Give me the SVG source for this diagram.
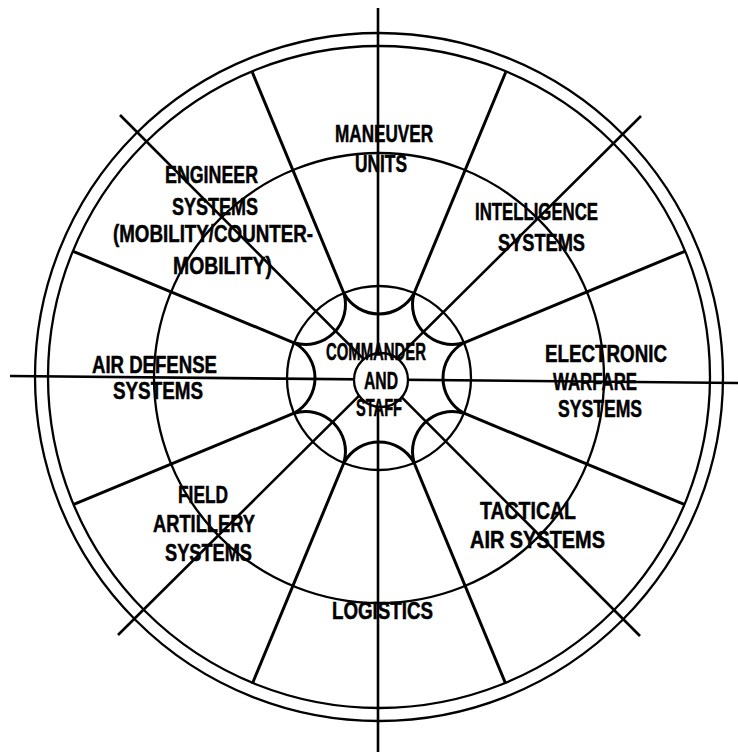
<svg xmlns="http://www.w3.org/2000/svg" width="738" height="752" viewBox="0 0 738 752">
<style>
.ln{stroke:#000;fill:none;stroke-linecap:butt}
.ax{stroke-width:2.6}
.sp{stroke-width:3}
.ci{stroke-width:2.3}
.t{font-family:"Liberation Sans",Arial,sans-serif;font-weight:bold;font-size:24px;fill:#000;stroke:#000;stroke-width:0.5}
</style>
<rect width="738" height="752" fill="#fff"/>
<g id="frame" class="ln ci">
<circle cx="379" cy="377" r="344"/>
<circle cx="379" cy="377" r="331"/>
<circle cx="379" cy="378" r="225"/>
<circle cx="379" cy="378" r="92"/>
</g>
<g id="connectors" class="ln">
<g id="axes" class="ax">
<line x1="378" y1="8" x2="378" y2="752"/>
<line x1="10" y1="376" x2="738" y2="383"/>
<line x1="120" y1="115" x2="640" y2="636"/>
<line x1="641" y1="116" x2="118" y2="635"/>
</g>
<g id="spokes" class="sp">
<line x1="464.0" y1="413.2" x2="684.8" y2="504.7"/>
<line x1="414.2" y1="463.0" x2="505.7" y2="683.8"/>
<line x1="343.8" y1="463.0" x2="252.3" y2="683.8"/>
<line x1="294.0" y1="413.2" x2="73.2" y2="504.7"/>
<line x1="294.0" y1="342.8" x2="73.2" y2="251.3"/>
<line x1="343.8" y1="293.0" x2="252.3" y2="72.2"/>
<line x1="414.2" y1="293.0" x2="505.7" y2="72.2"/>
<line x1="464.0" y1="342.8" x2="684.8" y2="251.3"/>
</g>
<path id="bites" class="sp" d="M464,342.8 A40 40 0 0 0 464,413.2 A40 40 0 0 0 414.2,463 A40 40 0 0 0 343.8,463 A40 40 0 0 0 294,413.2 A40 40 0 0 0 294,342.8 A40 40 0 0 0 343.8,293 A40 40 0 0 0 414.2,293 A40 40 0 0 0 464,342.8 Z"/>
</g>
<g id="commander">
<circle cx="381" cy="380" r="27" fill="#fff" stroke="#000" stroke-width="2.3"/>
<text class="t" x="326" y="360" textLength="100" lengthAdjust="spacingAndGlyphs">COMMANDER</text>
<text class="t" x="364" y="389" textLength="34" lengthAdjust="spacingAndGlyphs">AND</text>
<text class="t" x="356" y="416" textLength="46" lengthAdjust="spacingAndGlyphs">STAFF</text>
</g>
<g id="maneuver">
<text class="t" x="335" y="142" textLength="98" lengthAdjust="spacingAndGlyphs">MANEUVER</text>
<text class="t" x="355" y="172" textLength="52" lengthAdjust="spacingAndGlyphs">UNITS</text>
</g>
<g id="intelligence">
<text class="t" x="475" y="220" textLength="123" lengthAdjust="spacingAndGlyphs">INTELLIGENCE</text>
<text class="t" x="498" y="251" textLength="87" lengthAdjust="spacingAndGlyphs">SYSTEMS</text>
</g>
<g id="electronic-warfare">
<text class="t" x="545" y="362" textLength="122" lengthAdjust="spacingAndGlyphs">ELECTRONIC</text>
<text class="t" x="553" y="390" textLength="84" lengthAdjust="spacingAndGlyphs">WARFARE</text>
<text class="t" x="558" y="417" textLength="84" lengthAdjust="spacingAndGlyphs">SYSTEMS</text>
</g>
<g id="tactical-air">
<text class="t" x="480" y="519" textLength="96" lengthAdjust="spacingAndGlyphs">TACTICAL</text>
<text class="t" x="470" y="548" textLength="135" lengthAdjust="spacingAndGlyphs">AIR SYSTEMS</text>
</g>
<g id="logistics">
<text class="t" x="332" y="619" textLength="101" lengthAdjust="spacingAndGlyphs">LOGISTICS</text>
</g>
<g id="field-artillery">
<text class="t" x="178" y="503" textLength="50" lengthAdjust="spacingAndGlyphs">FIELD</text>
<text class="t" x="153" y="532" textLength="102" lengthAdjust="spacingAndGlyphs">ARTILLERY</text>
<text class="t" x="165" y="561" textLength="87" lengthAdjust="spacingAndGlyphs">SYSTEMS</text>
</g>
<g id="air-defense">
<text class="t" x="92" y="373" textLength="125" lengthAdjust="spacingAndGlyphs">AIR DEFENSE</text>
<text class="t" x="113" y="399" textLength="90" lengthAdjust="spacingAndGlyphs">SYSTEMS</text>
</g>
<g id="engineer">
<text class="t" x="165" y="183" textLength="93" lengthAdjust="spacingAndGlyphs">ENGINEER</text>
<text class="t" x="172" y="215" textLength="86" lengthAdjust="spacingAndGlyphs">SYSTEMS</text>
<text class="t" x="113" y="242" textLength="200" lengthAdjust="spacingAndGlyphs">(MOBILITY/COUNTER-</text>
<text class="t" x="173" y="274" textLength="99" lengthAdjust="spacingAndGlyphs">MOBILITY)</text>
</g>
</svg>
